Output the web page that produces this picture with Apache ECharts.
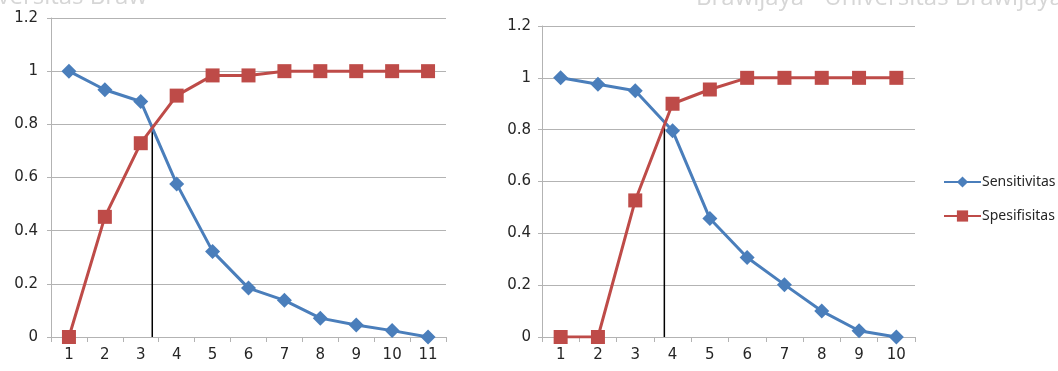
<!DOCTYPE html>
<html>
<head>
<meta charset="utf-8">
<script src="https://cdn.jsdelivr.net/npm/echarts@6/dist/echarts.min.js"></script>
<style>
  html, body { margin: 0; padding: 0; background: #ffffff; }
  #chart { width: 1058px; height: 371px; }
</style>
</head>
<body>
<div id="chart"></div>
<script>
// Left panel: 11 cut-off points
const categoriesA = ['1', '2', '3', '4', '5', '6', '7', '8', '9', '10', '11'];
const sensitivitasA = [1, 0.93, 0.886, 0.576, 0.322, 0.184, 0.138, 0.071, 0.045, 0.024, 0];
const spesifisitasA = [0, 0.452, 0.729, 0.908, 0.984, 0.984, 1, 1, 1, 1, 1];
const cutoffA = [3.32, 0.785];   // [position on x, height of the marker line]

// Right panel: 10 cut-off points
const categoriesB = ['1', '2', '3', '4', '5', '6', '7', '8', '9', '10'];
const sensitivitasB = [1, 0.975, 0.95, 0.796, 0.457, 0.307, 0.202, 0.1, 0.024, 0];
const spesifisitasB = [0, 0, 0.527, 0.9, 0.955, 1, 1, 1, 1, 1];
const cutoffB = [3.78, 0.815];

// Shared value axis range
const yMin = 0, yMax = 1.2, yStep = 0.2;

const BLUE = '#4a7ebb';
const RED = '#be4b48';
const GRID_GREY = '#b3b3b3';
const LABEL_FONT = 'DejaVu Sans';

const chart = echarts.init(document.getElementById('chart'), null, { renderer: 'canvas' });

function categoryAxis(gridIndex, cats) {
  return {
    type: 'category', gridIndex, data: cats, boundaryGap: true,
    axisLine: { lineStyle: { color: GRID_GREY, width: 1 } },
    axisTick: { show: true, length: 5, alignWithLabel: false, lineStyle: { color: GRID_GREY } },
    axisLabel: { color: '#262626', fontFamily: LABEL_FONT, fontSize: 15, margin: 11 },
    splitLine: { show: false }
  };
}
function hiddenValueX(gridIndex, n) {
  return { type: 'value', gridIndex, min: 0.5, max: n + 0.5, show: false };
}
function valueAxis(gridIndex, margin) {
  return {
    type: 'value', gridIndex, min: yMin, max: yMax, interval: yStep,
    axisLine: { show: true, lineStyle: { color: GRID_GREY, width: 1 } },
    axisTick: { show: true, length: 4, lineStyle: { color: GRID_GREY } },
    axisLabel: { color: '#262626', fontFamily: LABEL_FONT, fontSize: 15, margin },
    splitLine: { show: true, lineStyle: { color: GRID_GREY, width: 1 } }
  };
}
function sensSeries(xi, yi, data) {
  return {
    name: 'Sensitivitas', type: 'line', xAxisIndex: xi, yAxisIndex: yi, data,
    symbol: 'diamond', symbolSize: 15, showAllSymbol: true,
    lineStyle: { color: BLUE, width: 3 }, itemStyle: { color: BLUE },
    z: 3, animation: false
  };
}
function specSeries(xi, yi, data) {
  return {
    name: 'Spesifisitas', type: 'line', xAxisIndex: xi, yAxisIndex: yi, data,
    symbol: 'rect', symbolSize: 14, showAllSymbol: true,
    lineStyle: { color: RED, width: 3 }, itemStyle: { color: RED },
    z: 4, animation: false
  };
}
function cutoffSeries(xi, yi, cut) {
  return {
    name: 'cutoff', type: 'line', xAxisIndex: xi, yAxisIndex: yi,
    data: [[cut[0], 0], [cut[0], cut[1]]],
    symbol: 'none', lineStyle: { color: '#000000', width: 1.5 },
    z: 2, animation: false, silent: true
  };
}

chart.setOption({
  animation: false,
  backgroundColor: '#ffffff',
  graphic: [
    // faint watermark lettering along the top edge
    { type: 'text', x: 147, y: 9, silent: true, z: -10,
      style: { text: 'Universitas Braw', fill: '#d6d6d6', font: '24px "Open Sans"',
               align: 'right', verticalAlign: 'bottom' } },
    { type: 'text', x: 696, y: 10, silent: true, z: -10,
      style: { text: 'Brawijaya - Universitas Brawijaya', fill: '#d6d6d6', font: '24px "Open Sans"',
               align: 'left', verticalAlign: 'bottom' } }
  ],
  grid: [
    { left: 51, top: 18, width: 395, height: 319 },
    { left: 542, top: 26, width: 373, height: 311 }
  ],
  xAxis: [
    categoryAxis(0, categoriesA),
    categoryAxis(1, categoriesB),
    hiddenValueX(0, categoriesA.length),
    hiddenValueX(1, categoriesB.length)
  ],
  yAxis: [
    valueAxis(0, 13),
    valueAxis(1, 11)
  ],
  legend: {
    data: ['Sensitivitas', 'Spesifisitas'],
    orient: 'vertical', left: 938, top: 170,
    itemWidth: 37, itemHeight: 14, itemGap: 20,
    textStyle: { color: '#262626', fontFamily: 'Noto Sans', fontSize: 14, padding: [0, 0, 0, -4] },
    selectedMode: false
  },
  series: [
    cutoffSeries(2, 0, cutoffA),
    sensSeries(0, 0, sensitivitasA),
    specSeries(0, 0, spesifisitasA),
    cutoffSeries(3, 1, cutoffB),
    sensSeries(1, 1, sensitivitasB),
    specSeries(1, 1, spesifisitasB)
  ]
});
</script>
</body>
</html>
